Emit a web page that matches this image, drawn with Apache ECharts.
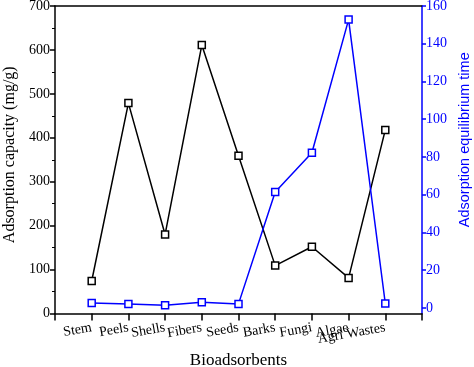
<!DOCTYPE html>
<html>
<head>
<meta charset="utf-8">
<script src="https://cdn.jsdelivr.net/npm/echarts@6/dist/echarts.min.js"></script>
<style>html,body{margin:0;padding:0;background:#fff}#c{width:474px;height:367px}</style>
</head>
<body>
<div id="c"></div>
<script>
const categories = ['Stem', 'Peels', 'Shells', 'Fibers', 'Seeds', 'Barks', 'Fungi', 'Algae', 'Agri Wastes'];
const capacity = [74, 479, 180, 611, 359, 109, 152, 81, 418];
const eqTime = [2.5, 2.0, 1.4, 3.0, 2.1, 61.4, 82.2, 152.8, 2.3];
const leftTicks = [0, 100, 200, 300, 400, 500, 600, 700];
const rightTicks = [0, 20, 40, 60, 80, 100, 120, 140, 160];

const axisCats = [''].concat(categories, ['']);
const pad = arr => [null].concat(arr, [null]);
const font = 'Liberation Serif';
const blue = '#0000ff';

const chart = echarts.init(document.getElementById('c'), null, {renderer: 'canvas'});
chart.setOption({
  animation: false,
  backgroundColor: '#fff',
  grid: {left: 55, right: 52, top: 6, bottom: 53.5, containLabel: false, outerBoundsMode: 'none'},
  xAxis: [{
    type: 'category', data: axisCats, boundaryGap: false,
    name: 'Bioadsorbents', nameLocation: 'middle', nameGap: 36,
    nameTextStyle: {fontFamily: font, fontSize: 17, color: '#000'},
    axisLine: {onZero: false, lineStyle: {color: '#000', width: 1.5}},
    axisTick: {show: true, inside: false, length: 7, alignWithLabel: true, interval: 0, lineStyle: {color: '#000', width: 1.5}},
    axisLabel: {interval: 0, rotate: 10, margin: 14, fontFamily: font, fontSize: 14, color: '#000'},
    splitLine: {show: false}
  }, {
    type: 'category', data: axisCats, boundaryGap: false, position: 'top',
    axisLine: {onZero: false, lineStyle: {color: '#000', width: 1.5}},
    axisTick: {show: false}, axisLabel: {show: false}, splitLine: {show: false}
  }],
  yAxis: [{
    type: 'value', min: 0, max: 700, interval: 100, position: 'left',
    name: 'Adsorption capacity (mg/g)', nameLocation: 'middle', nameGap: 37,
    nameTextStyle: {fontFamily: font, fontSize: 16, color: '#000', padding: [0, 0, 0, 10]},
    axisLine: {show: true, onZero: false, lineStyle: {color: '#000', width: 1.5}},
    axisTick: {show: true, inside: false, length: 5, lineStyle: {color: '#000', width: 1.5}},
    minorTick: {show: true, splitNumber: 2, length: 3, lineStyle: {color: '#000', width: 1}},
    axisLabel: {margin: 5, fontFamily: font, fontSize: 14, color: '#000', customValues: leftTicks},
    splitLine: {show: false}
  }, {
    type: 'value', min: -3, max: 160, position: 'right',
    name: 'Adsorption equilibrium time', nameLocation: 'middle', nameGap: 33,
    nameTextStyle: {fontFamily: 'Liberation Sans', fontSize: 14.5, color: blue, padding: [0, 0, 0, 40]},
    axisLine: {show: true, onZero: false, lineStyle: {color: blue, width: 1.5}},
    axisTick: {show: true, inside: false, length: 4, customValues: rightTicks, lineStyle: {color: blue, width: 1.5}},
    axisLabel: {margin: 4, fontFamily: font, fontSize: 14, color: blue, customValues: rightTicks},
    splitLine: {show: false}
  }],
  series: [{
    type: 'line', xAxisIndex: 0, yAxisIndex: 0, data: pad(capacity),
    symbol: 'rect', symbolSize: 7, showAllSymbol: true,
    lineStyle: {color: '#000', width: 1.5},
    itemStyle: {color: '#fff', borderColor: '#000', borderWidth: 1.5}
  }, {
    type: 'line', xAxisIndex: 0, yAxisIndex: 1, data: pad(eqTime),
    symbol: 'rect', symbolSize: 7, showAllSymbol: true,
    lineStyle: {color: blue, width: 1.5},
    itemStyle: {color: '#fff', borderColor: blue, borderWidth: 1.5}
  }]
});
</script>
</body>
</html>
